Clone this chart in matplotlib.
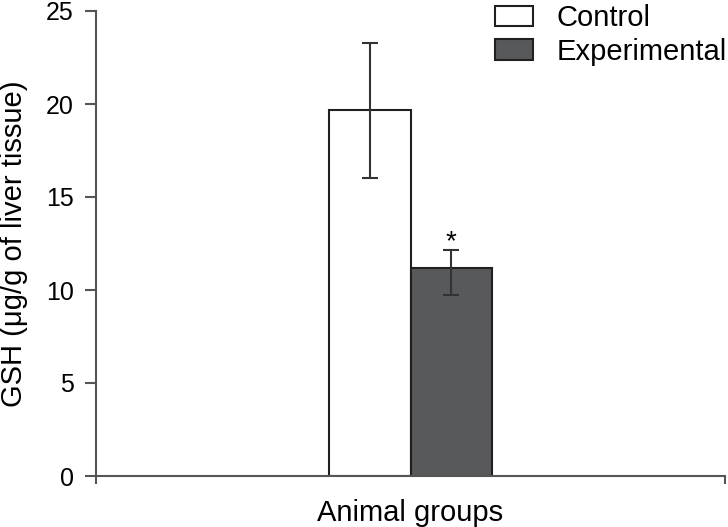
import matplotlib
matplotlib.use("Agg")
import matplotlib.pyplot as plt

# ------------------------------------------------------------
# Data
# ------------------------------------------------------------
GROUPS = ["Control", "Experimental"]
MEANS = [19.7, 11.2]
ERR_LOW = [3.7, 1.45]
ERR_HIGH = [3.6, 0.95]
SIGNIF = ["", "*"]
YTICKS = [0, 5, 10, 15, 20, 25]

FILL = ["#ffffff", "#58595b"]
EDGE = "#231f20"
AXIS = "#555555"

plt.rcParams["font.family"] = ["Liberation Sans Narrow", "Liberation Sans", "DejaVu Sans"]

fig = plt.figure(figsize=(7.28, 5.27), dpi=100)
ax = fig.add_axes([96 / 728, 1 - 476 / 527, 629 / 728, 465 / 527])

bar_w = 0.129
for i, (name, m) in enumerate(zip(GROUPS, MEANS)):
    x = 0.5 + (i - 0.5) * bar_w
    ax.bar(x, m, bar_w, color=FILL[i], edgecolor=EDGE, linewidth=1.5,
           label=name, zorder=2)
    ax.errorbar(x, m, yerr=[[ERR_LOW[i]], [ERR_HIGH[i]]], fmt="none",
                ecolor="#333333", elinewidth=1.5, capsize=5.6, capthick=1.5, zorder=3)
    if SIGNIF[i]:
        ax.annotate(SIGNIF[i], (x, m + ERR_HIGH[i]), textcoords="offset points",
                    xytext=(0, -4), ha="center", va="bottom", fontsize=20)

ax.set_xlim(0, 1)
ax.set_ylim(0, 25)
ax.set_yticks(YTICKS)
ax.set_xticks([0, 1])
ax.set_xticklabels(["", ""])
for s in ("top", "right"):
    ax.spines[s].set_visible(False)
for s in ("left", "bottom"):
    ax.spines[s].set_color(AXIS)
    ax.spines[s].set_linewidth(1.5)
ax.tick_params(axis="y", length=8, width=1.5, color=AXIS, labelsize=18, pad=8)
ax.tick_params(axis="x", length=6, width=1.5, color=AXIS)

ax.set_xlabel("Animal groups", fontsize=21, labelpad=7)
ax.set_ylabel("GSH (μg/g of liver tissue)", fontsize=21, labelpad=13)

ax.legend(loc="upper right", bbox_to_anchor=(1.003, 1.015), frameon=False,
          fontsize=21, handlelength=1.3, handleheight=0.7, borderpad=0,
          handletextpad=0.8, labelspacing=0.2, borderaxespad=0)

fig.savefig("out.png", dpi=100)
